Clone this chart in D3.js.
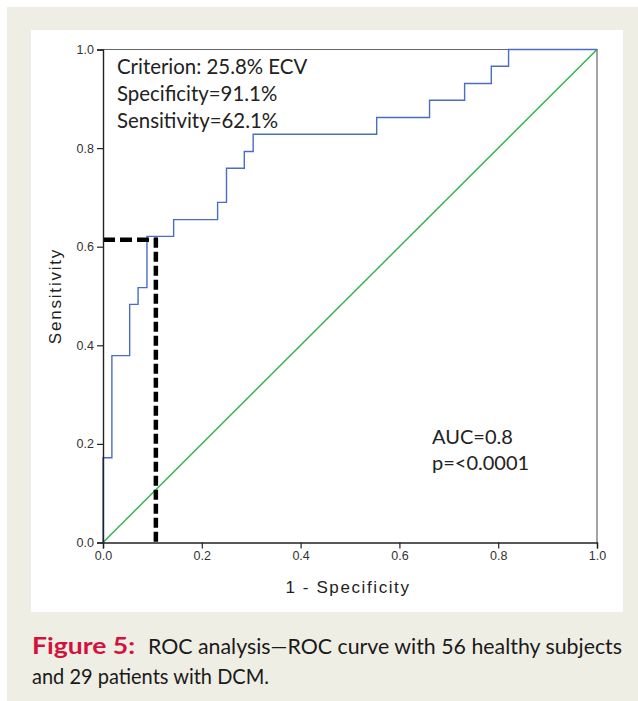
<!DOCTYPE html>
<html>
<head>
<meta charset="utf-8">
<script src="https://cdn.jsdelivr.net/npm/d3@7.9.0/dist/d3.min.js"></script>
<style>
  body { margin: 0; background: #fff; }
  svg { display: block; }
</style>
</head>
<body>
<svg id="chart" width="638" height="701"></svg>
<script>
// ROC curve steps: false positive rate (1 - specificity) where the curve rises, and the sensitivity it rises to
const fpr = [0, 0, 0.018, 0.054, 0.071, 0.089, 0.143, 0.232, 0.25, 0.286, 0.304, 0.554, 0.661, 0.732, 0.786, 0.821, 1.0];
const tpr = [0, 0.172, 0.379, 0.483, 0.517, 0.621, 0.655, 0.690, 0.759, 0.793, 0.828, 0.862, 0.897, 0.931, 0.966, 1.0, 1.0];

// chosen cutoff (drawn as the dashed black marker)
const cutoffFpr = 0.107;
const cutoffTpr = 0.614;

const ticks = [0, 0.2, 0.4, 0.6, 0.8, 1.0];
const criterionLines = ['Criterion: 25.8% ECV', 'Specificity=91.1%', 'Sensitivity=62.1%'];
const statLines = ['AUC=0.8', 'p=<0.0001'];

const svg = d3.select('#chart');

// beige frame + white panel
svg.append('rect').attr('x', 7).attr('y', 7).attr('width', 631).attr('height', 694).attr('fill', '#efeee4');
svg.append('rect').attr('x', 31).attr('y', 30).attr('width', 592).attr('height', 582).attr('fill', '#fff');

const x = d3.scaleLinear().domain([0, 1]).range([103, 597]);
const y = d3.scaleLinear().domain([0, 1]).range([542.5, 49.5]);

// box top and right
svg.append('path')
    .attr('d', `M${x(0)},${y(1)}H${x(1)}V${y(0)}`)
    .attr('fill', 'none')
    .attr('stroke', '#666')
    .attr('stroke-width', 1.2);

// reference diagonal
svg.append('line')
    .attr('x1', x(0)).attr('y1', y(0))
    .attr('x2', x(1)).attr('y2', y(1))
    .attr('stroke', '#2bb24c')
    .attr('stroke-width', 1.4);

// ROC curve
const pts = fpr.map((d, i) => [d, tpr[i]]);
const line = d3.line()
    .x(d => x(d[0]))
    .y(d => y(d[1]))
    .curve(d3.curveStepAfter);

svg.append('path')
    .attr('d', line(pts))
    .attr('fill', 'none')
    .attr('stroke', '#4a6cc3')
    .attr('stroke-width', 1.4);

// dashed cutoff marker
svg.append('path')
    .attr('d', `M${x(0)},${y(cutoffTpr)}H${x(cutoffFpr) + 2}`)
    .attr('fill', 'none')
    .attr('stroke', '#000')
    .attr('stroke-width', 4.5)
    .attr('stroke-dasharray', '12,5');
svg.append('path')
    .attr('d', `M${x(cutoffFpr)},${y(cutoffTpr) - 2}V${y(0)}`)
    .attr('fill', 'none')
    .attr('stroke', '#000')
    .attr('stroke-width', 4.5)
    .attr('stroke-dasharray', '10,4');

// axes
const fmt = d3.format('.1f');
const xAxis = svg.append('g')
    .attr('transform', `translate(0,${y(0)})`)
    .call(d3.axisBottom(x).tickValues(ticks).tickFormat(fmt).tickSize(6).tickPadding(3));
const yAxis = svg.append('g')
    .attr('transform', `translate(${x(0)},0)`)
    .call(d3.axisLeft(y).tickValues(ticks).tickFormat(fmt).tickSize(6).tickPadding(3));

[xAxis, yAxis].forEach(g => {
    g.select('.domain').attr('stroke', '#222').attr('stroke-width', 1.4);
    g.selectAll('.tick line').attr('stroke', '#222').attr('stroke-width', 1.2);
    g.selectAll('.tick text')
        .attr('fill', '#333')
        .style('font-family', '"Liberation Sans", Arial, sans-serif')
        .style('font-size', '12.5px');
});

// axis titles
svg.append('text')
    .attr('x', 348).attr('y', 593)
    .attr('text-anchor', 'middle')
    .attr('fill', '#222')
    .style('font-family', '"Liberation Sans", Arial, sans-serif')
    .style('font-size', '17px')
    .style('letter-spacing', '1.6px')
    .text('1 - Specificity');

svg.append('text')
    .attr('transform', 'translate(61,296) rotate(-90)')
    .attr('text-anchor', 'middle')
    .attr('fill', '#222')
    .style('font-family', '"Liberation Sans", Arial, sans-serif')
    .style('font-size', '17px')
    .style('letter-spacing', '1.8px')
    .text('Sensitivity');

// annotations
svg.append('g').selectAll('text')
    .data(criterionLines)
    .join('text')
    .attr('x', 117)
    .attr('y', (d, i) => 74 + i * 27)
    .attr('fill', '#222')
    .style('font-family', 'Lato, "Open Sans", sans-serif')
    .style('font-size', '20.4px')
    .text(d => d);

svg.append('g').selectAll('text')
    .data(statLines)
    .join('text')
    .attr('x', 432)
    .attr('y', (d, i) => 444 + i * 26)
    .attr('fill', '#222')
    .style('font-family', 'Lato, "Open Sans", sans-serif')
    .style('font-size', '20px')
    .text(d => d);

// caption
const cap1 = svg.append('text')
    .attr('y', 654)
    .attr('fill', '#1a1a1a')
    .style('font-family', 'Lato, "Open Sans", sans-serif')
    .style('font-size', '22px');
cap1.append('tspan')
    .attr('x', 32)
    .attr('fill', '#d2123e')
    .style('font-weight', 'bold')
    .style('font-size', '23px')
    .attr('textLength', 103)
    .attr('lengthAdjust', 'spacingAndGlyphs')
    .text('Figure 5:');
cap1.append('tspan')
    .attr('x', 148)
    .attr('textLength', 474)
    .attr('lengthAdjust', 'spacingAndGlyphs')
    .text('ROC analysis\u2014ROC curve with 56 healthy subjects');

svg.append('text')
    .attr('x', 32).attr('y', 684)
    .attr('fill', '#1a1a1a')
    .attr('textLength', 237)
    .attr('lengthAdjust', 'spacingAndGlyphs')
    .style('font-family', 'Lato, "Open Sans", sans-serif')
    .style('font-size', '22px')
    .text('and 29 patients with DCM.');
</script>
</body>
</html>
